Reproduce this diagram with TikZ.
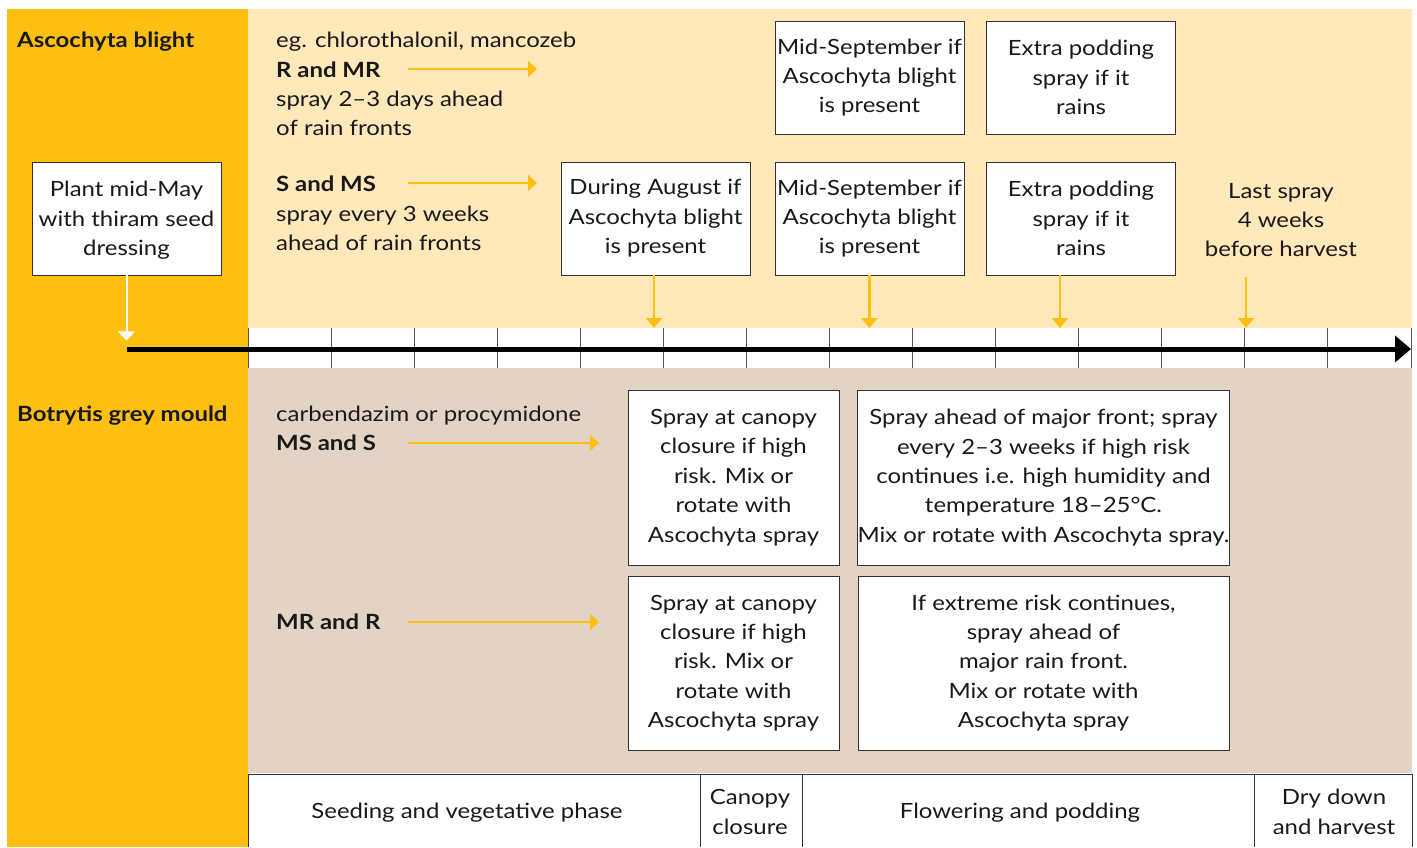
\documentclass[tikz,border=0pt]{standalone}
\usepackage{fontspec}
\setmainfont{Lato}[FakeStretch=1.14]
\usetikzlibrary{arrows.meta}
\definecolor{orng}{HTML}{FDBF12}
\definecolor{lightor}{HTML}{FFE8BA}
\definecolor{beige}{HTML}{E2D3C4}
\definecolor{arrowor}{HTML}{FDC010}
\definecolor{boxline}{HTML}{333333}
\definecolor{tickc}{HTML}{555555}
\begin{document}
\begin{tikzpicture}[x=1pt,y=-1pt,
 every node/.style={font=\fontsize{21}{29.4}\selectfont, inner sep=0pt, text=black!90},
 txt/.style={anchor=base west},
 lbl/.style={font=\fontsize{21}{29.4}\selectfont\bfseries, anchor=base west},
 whitebox/.style={draw=boxline, fill=white, line width=0.9pt, align=center},
 oarrow/.style={draw=arrowor, line width=2.6pt, -{Triangle[length=9pt,width=16pt]}},
 varrow/.style={draw=arrowor, line width=2.4pt, -{Triangle[length=10pt,width=16pt]}},
 phase/.style={align=center},
]
\useasboundingbox (0,0) rectangle (1417,847);
\fill[white] (0,0) rectangle (1417,847);
\fill[orng] (7,9) rectangle (248,847);
\fill[lightor] (248,9) rectangle (1412,328);
\fill[beige] (248,368) rectangle (1412,773);
\node[fill=white, minimum width=1164, minimum height=40, anchor=north west, outer sep=0pt] (strip) at (248,328) {};

% ticks
\foreach \i in {0,...,14} \draw[tickc, line width=0.9] ({248+\i*83.07},328) -- ++(0,40);

% headings
\node[lbl] (asc) at (17,47) {Ascochyta blight};
\node[lbl] (bot) at (17,421) {Botrytis grey mould};

% ascochyta text
\node[txt] (eg) at (276,47) {eg. chlorothalonil, mancozeb};
\node[lbl] (rmr) at (276,77) {R and MR};
\node[txt] (rmrtxt1) at (276,106) {spray 2--3 days ahead};
\node[txt] (rmrtxt2) at (276,135) {of rain fronts};
\node[lbl] (sms) at (276,191) {S and MS};
\node[txt] (smstxt1) at (276,221) {spray every 3 weeks};
\node[txt] (smstxt2) at (276,250) {ahead of rain fronts};

\coordinate (rmrA) at (408,69);
\coordinate (rmrB) at (537,69);
\coordinate (smsA) at (408,183);
\coordinate (smsB) at (537,183);
\draw[oarrow] (rmrA) -- (rmrB);
\draw[oarrow] (smsA) -- (smsB);

% boxes
\node[whitebox, minimum width=189, minimum height=113, text depth=-6pt] (plant) at (126.5,218.5) {Plant mid-May\\with thiram seed\\dressing};
\node[whitebox, minimum width=189, minimum height=113] (aug) at (655.5,218.5) {During August if\\Ascochyta blight\\is present};
\node[whitebox, minimum width=189, minimum height=113] (sep2) at (869.5,218.5) {Mid-September if\\Ascochyta blight\\is present};
\node[whitebox, minimum width=189, minimum height=113] (ext2) at (1081,218.5) {Extra podding\\spray if it\\rains};
\node[whitebox, minimum width=189, minimum height=113] (sep1) at (869.5,77.5) {Mid-September if\\Ascochyta blight\\is present};
\node[whitebox, minimum width=189, minimum height=113] (ext1) at (1081,77.5) {Extra podding\\spray if it\\rains};
\node[align=center, minimum height=113] (last) at (1281,220) {Last spray\\4 weeks\\before harvest};

% timeline
\coordinate (tlend) at (1411,349);
\draw[line width=5, -{Triangle[length=16pt,width=26pt]}] (plant.south |- tlend) -- (tlend);
\draw[white, line width=2, -{Triangle[length=9pt,width=17pt]}] (plant.south) -- ++(0,65);

% orange down arrows
\draw[varrow] ([xshift=-1.5]aug.south) -- ([xshift=-1.5]aug.south |- strip.north);
\draw[varrow] (sep2.south) -- (sep2.south |- strip.north);
\draw[varrow] ([xshift=-21]ext2.south) -- ([xshift=-21]ext2.south |- strip.north);
\draw[varrow] ([xshift=-35]last.south) -- ([xshift=-35]last.south |- strip.north);

% botrytis text
\node[txt] (carb) at (276,421) {carbendazim or procymidone};
\node[lbl] (mss) at (276,450) {MS and S};
\node[lbl] (mrr) at (276,629) {MR and R};
\coordinate (mssA) at (408,443);
\coordinate (mssB) at (599,443);
\coordinate (mrrA) at (408,622);
\coordinate (mrrB) at (599,622);
\draw[oarrow] (mssA) -- (mssB);
\draw[oarrow] (mrrA) -- (mrrB);

\node[whitebox, minimum width=211, minimum height=175] (b1) at (733.5,477.5) {Spray at canopy\\closure if high\\risk. Mix or\\rotate with\\Ascochyta spray};
\node[whitebox, minimum width=371, minimum height=175] (b2) at (1043.5,477.5) {Spray ahead of major front; spray\\every 2--3 weeks if high risk\\continues i.e. high humidity and\\temperature 18--25°C.\\Mix or rotate with Ascochyta spray.};
\node[whitebox, minimum width=211, minimum height=174] (b3) at (733.5,663) {Spray at canopy\\closure if high\\risk. Mix or\\rotate with\\Ascochyta spray};
\node[whitebox, minimum width=371, minimum height=174] (b4) at (1043.5,663) {If extreme risk continues,\\spray ahead of\\major rain front.\\Mix or rotate with\\Ascochyta spray};

% phase bar
\fill[white] (248,774) rectangle (1412,847);
\draw[boxline, line width=0.9] (248,847) -- (248,774) -- (1412,774) -- (1412,847);
\draw[boxline, line width=0.9] (700,774) -- (700,847);
\draw[boxline, line width=0.9] (802,774) -- (802,847);
\draw[boxline, line width=0.9] (1254,774) -- (1254,847);
\node[phase] (p1) at (467,813) {Seeding and vegetative phase};
\node[phase] (p2) at (750,812) {Canopy\\closure};
\node[phase] (p3) at (1020,813) {Flowering and podding};
\node[phase] (p4) at (1334,812) {Dry down\\and harvest};
\end{tikzpicture}
\end{document}
